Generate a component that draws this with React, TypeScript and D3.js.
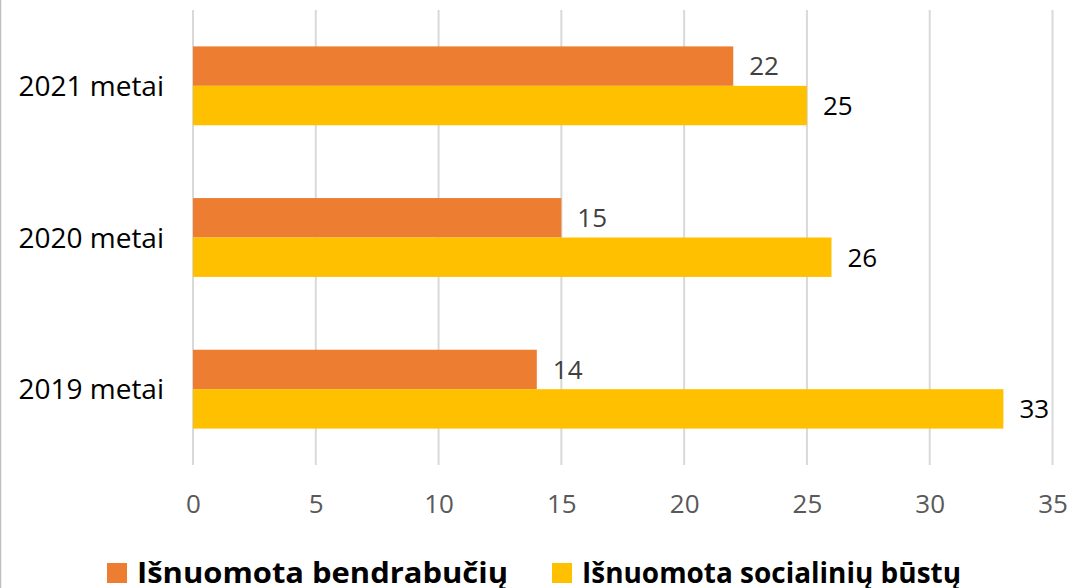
import { useEffect, useRef } from 'react';
import { axisBottom, scaleBand, scaleLinear, select } from 'd3';

const years = ['2021 metai', '2020 metai', '2019 metai'];
const dorms = [22, 15, 14];
const housing = [25, 26, 33];
const seriesNames = ['Išnuomota bendrabučių', 'Išnuomota socialinių būstų'];
const seriesColors = ['#ED7D31', '#FFC000'];
const labelColors = ['#404040', '#000000'];
const ticks = [0, 5, 10, 15, 20, 25, 30, 35];

const W = 1071;
const H = 588;
const FONT = '"Open Sans", sans-serif';

export default function App() {
    const xRef = useRef<SVGGElement>(null);

    const x = scaleLinear().domain([0, 35]).range([193, 1052.5]);
    const y = scaleBand().domain(years).range([10, 465]).paddingInner(0.48).paddingOuter(0.24);
    const sub = scaleBand().domain(['a', 'b']).range([0, y.bandwidth()]);

    useEffect(() => {
        const g = select(xRef.current);
        g.call(axisBottom(x).tickValues(ticks).tickSize(0).tickPadding(0) as any);
        g.select('.domain').remove();
        g.selectAll('text')
            .attr('font-family', FONT)
            .attr('font-size', 26)
            .attr('fill', '#595959')
            .attr('dy', '0.9em');
    }, []);

    const rows = years.map((yr, i) => ({ yr, vals: [dorms[i], housing[i]] }));
    // legend positions / widths
    const legendX = [107, 552];
    const legendW = [371, 379];

    return (
        <svg width={W} height={H} style={{ position: 'absolute', left: 0, top: 0, background: '#fff' }}>
            <line x1={0.5} x2={0.5} y1={0} y2={H} stroke='#bfbfbf' strokeWidth={1.5} />
            {ticks.map(t => (
                <line key={t} x1={x(t)} x2={x(t)} y1={10} y2={465} stroke='#d9d9d9' strokeWidth={2} />
            ))}
            {rows.map(r => (
                <g key={r.yr} transform={`translate(0,${y(r.yr)})`}>
                    {r.vals.map((v, j) => {
                        const key = j === 0 ? 'a' : 'b';
                        const yy = sub(key) as number;
                        return (
                            <g key={j}>
                                <rect x={x(0)} y={yy} width={x(v) - x(0)} height={sub.bandwidth()} fill={seriesColors[j]} />
                                <text x={x(v) + 16} y={yy + sub.bandwidth() / 2} dy='0.36em'
                                    fontFamily={FONT} fontSize={26} fill={labelColors[j]}>{v}</text>
                            </g>
                        );
                    })}
                    <text x={164} y={y.bandwidth() / 2} dy='0.36em' textAnchor='end'
                        fontFamily={FONT} fontSize={28} fill='#000'>{r.yr}</text>
                </g>
            ))}
            <g ref={xRef} transform='translate(0,490)' />
            {seriesNames.map((name, i) => (
                <g key={name}>
                    <rect x={legendX[i]} y={563} width={20} height={20} fill={seriesColors[i]} />
                    <text x={legendX[i] + 30} y={583} fontFamily={FONT} fontWeight='bold'
                        fontSize={29} textLength={legendW[i]} lengthAdjust='spacingAndGlyphs'
                        fill='#000'>{name}</text>
                </g>
            ))}
        </svg>
    );
}
